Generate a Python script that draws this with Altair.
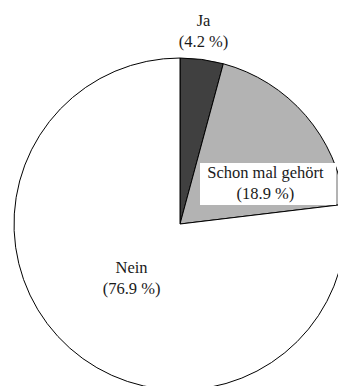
import altair as alt
import pandas as pd

# Antwortkategorien und ihre Anteile in Prozent
kategorien = ["Ja", "Schon mal gehört", "Nein"]
anteile = [4.2, 18.9, 76.9]
farben = ["#404040", "#b3b3b3", "#ffffff"]

gesamt = sum(anteile)
df = pd.DataFrame({
    "kategorie": kategorien,
    "anteil": anteile,
    "rang": list(range(len(kategorien))),
    "prozent": [f"({v:.1f} %)" for v in anteile],
})

MITTE_X, MITTE_Y, RADIUS = 180, 224, 166
SCHRIFT = "Liberation Serif"
ZEILE = 21

kuchen = alt.Chart(df).mark_arc(
    outerRadius=RADIUS, stroke="black", strokeWidth=1
).encode(
    theta=alt.Theta("anteil:Q", stack=True),
    color=alt.Color("kategorie:N",
                    scale=alt.Scale(domain=kategorien, range=farben),
                    legend=None),
    order=alt.Order("rang:Q"),
    x=alt.value(MITTE_X),
    y=alt.value(MITTE_Y),
)


def zeile(kat, feld, radius, dx, dy):
    return alt.Chart(df).transform_window(
        kum="sum(anteil)", sort=[alt.SortField("rang")]
    ).transform_calculate(
        mitte="datum.kum - datum.anteil / 2"
    ).transform_filter(
        alt.datum.kategorie == kat
    ).mark_text(
        radius=radius, dx=dx, dy=dy,
        font=SCHRIFT, fontSize=16.5, color="#1a1a1a",
        align="center", baseline="middle",
    ).encode(
        theta=alt.Theta("mitte:Q", stack=False,
                        scale=alt.Scale(domain=[0, gesamt])),
        text=f"{feld}:N",
        x=alt.value(MITTE_X),
        y=alt.value(MITTE_Y),
    )


def beschriftung(kat, radius, dx=0, dy=0):
    return [
        zeile(kat, "kategorie", radius, dx, dy - ZEILE / 2),
        zeile(kat, "prozent", radius, dx, dy + ZEILE / 2),
    ]


# weißer Hintergrund hinter der Beschriftung im grauen Segment
kasten = alt.Chart(df).mark_rect(fill="white").encode(
    x=alt.value(200), x2=alt.value(336),
    y=alt.value(163), y2=alt.value(205),
)

chart = alt.layer(
    kuchen,
    kasten,
    *beschriftung("Ja", 194, dx=-2),
    *beschriftung("Schon mal gehört", 105, dx=6, dy=28),
    *beschriftung("Nein", 73),
).resolve_scale(
    theta="independent"
).properties(
    width=338, height=386, padding=0, autosize="none", background="white"
).configure_view(stroke=None)

chart.save("out.html", embed_options={"renderer": "svg", "actions": False})
